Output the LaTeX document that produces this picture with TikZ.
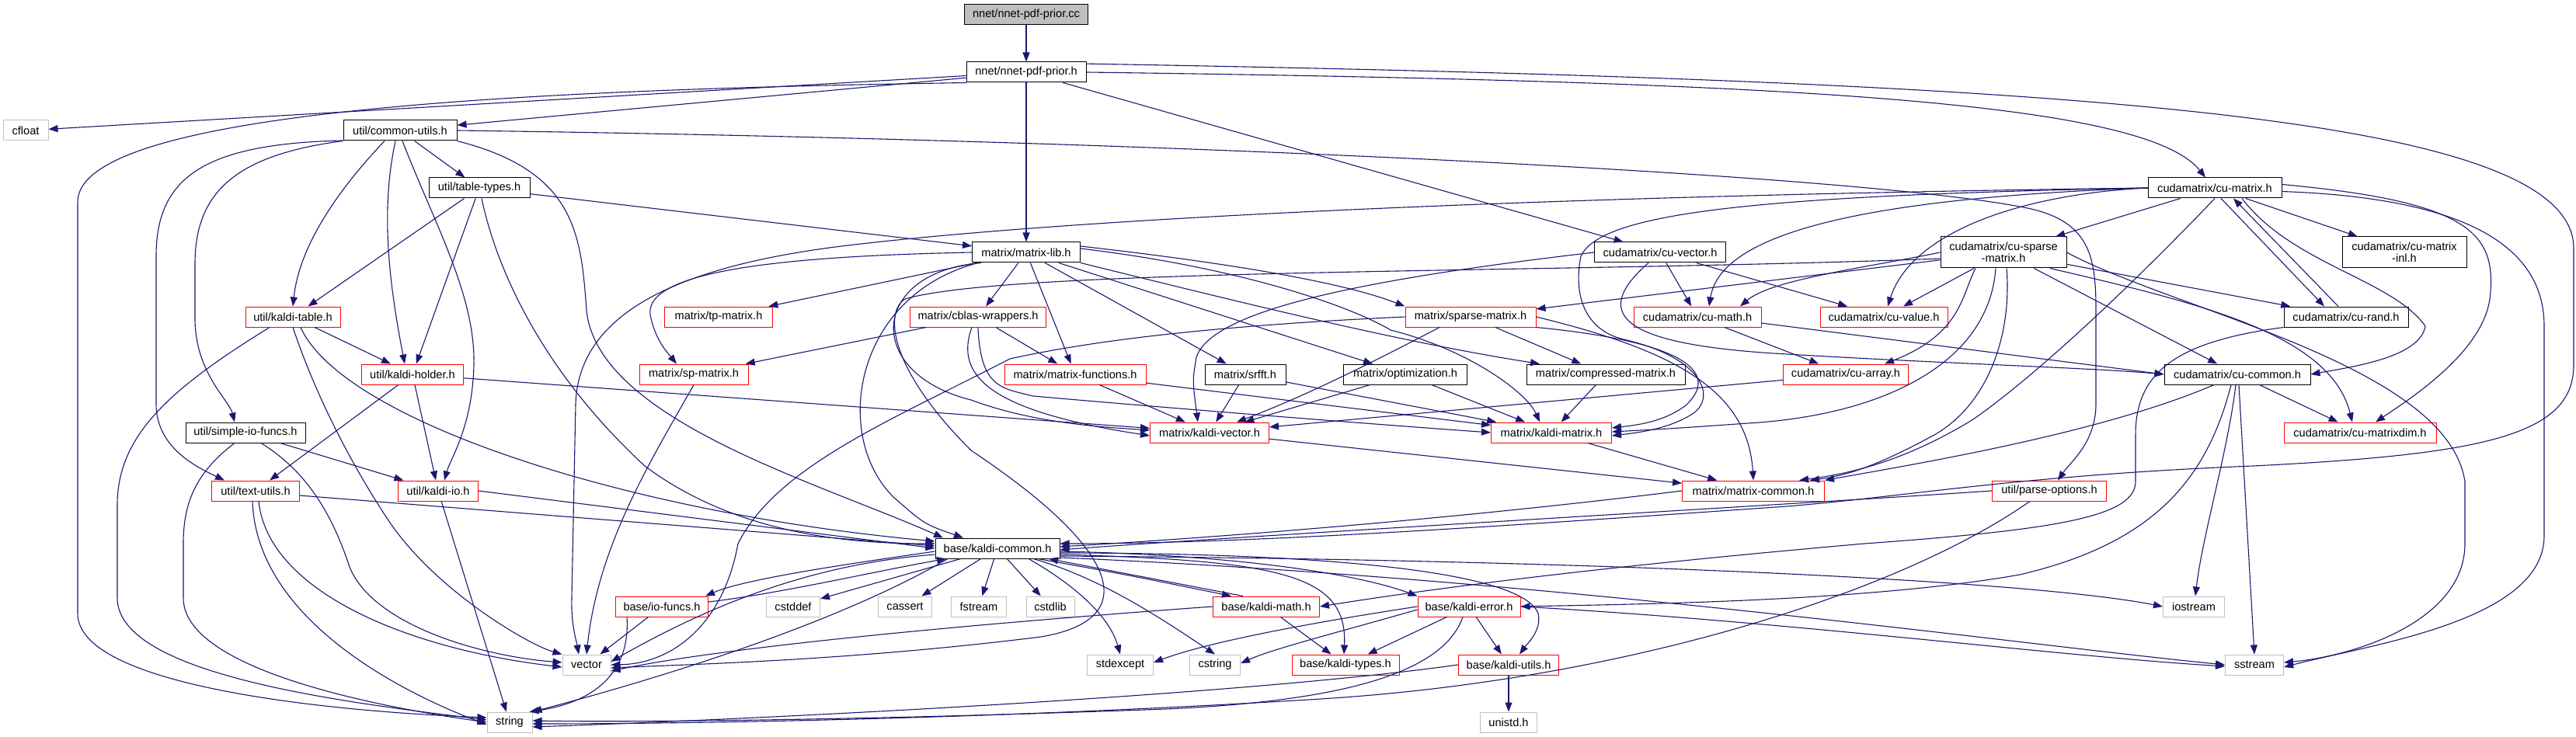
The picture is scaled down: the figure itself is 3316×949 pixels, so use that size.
\documentclass[tikz,border=0pt]{standalone}
\usepackage{fontspec}
\setmainfont{Liberation Sans}
\usepackage{tikz}
\usetikzlibrary{arrows.meta,positioning}
\definecolor{inclblue}{HTML}{191970}
\definecolor{sysgray}{HTML}{BFBFBF}
\tikzset{
  hbox/.style={draw=black, line width=1pt, minimum height=26pt, inner sep=1pt, font=\fontsize{14.6}{15}\selectfont, align=center},
  cutbox/.style={hbox, draw=red},
  sysbox/.style={hbox, draw=sysgray},
  rootbox/.style={hbox, fill=sysgray},
  incl/.style={draw=inclblue, line width=1.1pt, -{Triangle[length=12pt,width=9pt]}},
}
\begin{document}
\begin{tikzpicture}[x=1pt, y=-1pt]
  \fill[white] (0,0) rectangle (3316,949);
  \useasboundingbox (0,0) rectangle (3316,949);

  % source file and its header
  \node[rootbox, minimum width=159pt] (root) at (1321,19) {nnet/nnet-pdf-prior.cc};
  \node[hbox, minimum width=154pt] (prior) at (1321,93) {nnet/nnet-pdf-prior.h};

  % upper rows
  \node[sysbox, minimum width=58pt] (cfloat) at (33,168) {cfloat};
  \node[hbox, minimum width=146pt] (cmnutils) at (515,168) {util/common-utils.h};
  \node[hbox, minimum width=130pt] (tbltypes) at (617,242) {util/table-types.h};
  \node[hbox, minimum width=172pt] (cumtx) at (2851,242) {cudamatrix/cu-matrix.h};
  \node[hbox, minimum width=139pt] (mtxlib) at (1321,325) {matrix/matrix-lib.h};
  \node[hbox, minimum width=169pt] (cuvec) at (2137,325) {cudamatrix/cu-vector.h};
  \node[hbox, minimum width=162pt, minimum height=40pt] (cusparse) at (2579,325) {cudamatrix/cu-sparse\\-matrix.h};
  \node[hbox, minimum width=160pt, minimum height=40pt] (cumtxinl) at (3095,325) {cudamatrix/cu-matrix\\-inl.h};

  % middle rows
  \node[cutbox, minimum width=122pt] (kdtable) at (377,408) {util/kaldi-table.h};
  \node[cutbox, minimum width=139pt] (tpmtx) at (925,408) {matrix/tp-matrix.h};
  \node[cutbox, minimum width=175pt] (cblas) at (1259,408) {matrix/cblas-wrappers.h};
  \node[cutbox, minimum width=168pt] (sparsemtx) at (1893,408) {matrix/sparse-matrix.h};
  \node[cutbox, minimum width=164pt] (cumath) at (2185,408) {cudamatrix/cu-math.h};
  \node[cutbox, minimum width=164pt] (cuvalue) at (2425,408) {cudamatrix/cu-value.h};
  \node[hbox, minimum width=160pt] (curand) at (3020,408) {cudamatrix/cu-rand.h};

  \node[cutbox, minimum width=131pt] (kdholder) at (531,482) {util/kaldi-holder.h};
  \node[cutbox, minimum width=140pt] (spmtx) at (893,482) {matrix/sp-matrix.h};
  \node[cutbox, minimum width=182pt] (mtxfuncs) at (1384,482) {matrix/matrix-functions.h};
  \node[hbox, minimum width=104pt] (srfft) at (1603,482) {matrix/srfft.h};
  \node[hbox, minimum width=159pt] (optim) at (1809,482) {matrix/optimization.h};
  \node[hbox, minimum width=204pt] (compressed) at (2067,482) {matrix/compressed-matrix.h};
  \node[cutbox, minimum width=161pt] (cuarray) at (2376,482) {cudamatrix/cu-array.h};
  \node[hbox, minimum width=188pt] (cucommon) at (2880,482) {cudamatrix/cu-common.h};

  \node[hbox, minimum width=154pt] (simpleio) at (316,557) {util/simple-io-funcs.h};
  \node[cutbox, minimum width=153pt] (kdvector) at (1557,557) {matrix/kaldi-vector.h};
  \node[cutbox, minimum width=155pt] (kdmatrix) at (1997,557) {matrix/kaldi-matrix.h};
  \node[cutbox, minimum width=196pt] (cumtxdim) at (3038,557) {cudamatrix/cu-matrixdim.h};

  \node[cutbox, minimum width=113pt] (textutils) at (329,632) {util/text-utils.h};
  \node[cutbox, minimum width=103pt] (kdio) at (564,632) {util/kaldi-io.h};
  \node[cutbox, minimum width=183pt] (mtxcommon) at (2257,632) {matrix/matrix-common.h};
  \node[cutbox, minimum width=147pt] (parseopts) at (2638,632) {util/parse-options.h};

  % base layer
  \node[hbox, minimum width=160pt] (kdcommon) at (1284,706) {base/kaldi-common.h};
  \node[cutbox, minimum width=119pt] (iofuncs) at (852,781) {base/io-funcs.h};
  \node[sysbox, minimum width=69pt] (cstddef) at (1021,781) {cstddef};
  \node[sysbox, minimum width=69pt] (cassert) at (1165,781) {cassert};
  \node[sysbox, minimum width=71pt] (fstream) at (1260,781) {fstream};
  \node[sysbox, minimum width=62pt] (cstdlib) at (1352,781) {cstdlib};
  \node[cutbox, minimum width=137pt] (kdmath) at (1630,781) {base/kaldi-math.h};
  \node[cutbox, minimum width=132pt] (kderror) at (1891,781) {base/kaldi-error.h};
  \node[sysbox, minimum width=79pt] (iostream) at (2824,781) {iostream};

  \node[sysbox, minimum width=62pt] (vector) at (755,856) {vector};
  \node[sysbox, minimum width=85pt] (stdexcept) at (1442,856) {stdexcept};
  \node[sysbox, minimum width=65pt] (cstring) at (1564,856) {cstring};
  \node[cutbox, minimum width=138pt] (kdtypes) at (1732,856) {base/kaldi-types.h};
  \node[cutbox, minimum width=129pt] (kdutils) at (1942,856) {base/kaldi-utils.h};
  \node[sysbox, minimum width=75pt] (sstream) at (2902,856) {sstream};
  \node[sysbox, minimum width=58pt] (string) at (656,930) {string};
  \node[sysbox, minimum width=73pt] (unistd) at (1942,930) {unistd.h};

  % short, straight includes
  \foreach \src/\dst in {root/prior, prior/mtxlib, prior/cuvec, prior/cfloat, prior/cmnutils,
      cmnutils/tbltypes, tbltypes/kdtable, tbltypes/kdholder, tbltypes/mtxlib, kdtable/kdholder,
      kdholder/textutils, kdholder/kdio, kdholder/kdvector, simpleio/kdio, kdio/string,
      mtxlib/tpmtx, mtxlib/cblas, mtxlib/mtxfuncs, mtxlib/srfft, mtxlib/optim, cblas/spmtx,
      cblas/mtxfuncs, mtxfuncs/kdvector, mtxfuncs/kdmatrix, srfft/kdvector, srfft/kdmatrix,
      optim/kdmatrix, optim/kdvector, compressed/kdmatrix, cuarray/kdvector, kdmatrix/mtxcommon,
      kdvector/mtxcommon, sparsemtx/compressed, cuvec/cumath, cuvec/cuvalue, cumath/cuarray,
      cumtx/cusparse, cumtx/cumtxinl, cusparse/cuvalue, cusparse/sparsemtx, cusparse/cucommon,
      cusparse/curand, cucommon/cumtxdim, kdcommon/cstddef, kdcommon/cassert, kdcommon/fstream,
      kdcommon/cstdlib, iofuncs/vector, kdmath/kdtypes, kderror/kdtypes, kderror/kdutils,
      kdutils/unistd}
    \draw[incl] (\src) -- (\dst);

  % nnet-pdf-prior.h
  \draw[incl] (prior.190) .. controls (700,115) and (100,140) .. (100,260) -- (100,790) .. controls (100,880) and (400,915) .. ([yshift=6pt]string.west);
  \draw[incl] (prior.east) .. controls (2300,105) and (2760,130) .. ([xshift=-12pt]cumtx.north);
  \draw[incl] (prior.8) .. controls (2700,105) and (3313,150) .. (3313,320) -- (3313,470) .. controls (3313,560) and (3200,585) .. (2900,600) .. controls (2600,612) and (2450,640) .. (2300,652) .. controls (1900,680) and (1600,700) .. ([yshift=6pt]kdcommon.east);

  % common-utils.h
  \draw[incl] (cmnutils.190) .. controls (260,185) and (201,230) .. (201,330) -- (201,520) .. controls (201,575) and (250,600) .. ([xshift=-40pt]textutils.north);
  \draw[incl] (cmnutils.south west) .. controls (300,200) and (251,250) .. (251,340) -- (251,410) .. controls (251,480) and (295,515) .. ([xshift=-14pt]simpleio.north);
  \draw[incl] ([xshift=-20pt]cmnutils.south) .. controls (430,250) and (385,320) .. (kdtable.north);
  \draw[incl] ([xshift=-6pt]cmnutils.south) .. controls (490,270) and (500,360) .. ([xshift=-10pt]kdholder.north);
  \draw[incl] ([xshift=3pt]cmnutils.south) .. controls (560,290) and (612,380) .. (610,470) .. controls (608,550) and (580,590) .. ([xshift=8pt]kdio.north);
  \draw[incl] (cmnutils.south east) .. controls (740,220) and (748,300) .. (755,400) .. controls (770,540) and (1050,620) .. ([xshift=-70pt]kdcommon.north);
  \draw[incl] (cmnutils.east) .. controls (1500,180) and (2400,225) .. (2610,268) .. controls (2690,285) and (2698,330) .. (2698,400) -- (2698,520) .. controls (2698,570) and (2665,595) .. ([xshift=11pt]parseopts.north);

  % util headers
  \draw[incl] ([xshift=3pt]tbltypes.south) .. controls (640,350) and (700,480) .. (830,600) .. controls (950,690) and (1100,700) .. ([yshift=6pt]kdcommon.west);
  \draw[incl] ([xshift=-30pt]kdtable.south) .. controls (220,500) and (151,560) .. (151,650) -- (151,770) .. controls (151,870) and (450,905) .. ([yshift=3pt]string.west);
  \draw[incl] (kdtable.south) .. controls (410,520) and (460,610) .. (500,670) .. controls (560,760) and (680,830) .. (vector.north west);
  \draw[incl] ([xshift=10pt]kdtable.south) .. controls (440,540) and (800,660) .. ([yshift=9pt]kdcommon.west);
  \draw[incl] ([xshift=-14pt]simpleio.south) .. controls (250,610) and (236,650) .. (236,700) -- (236,770) .. controls (236,855) and (450,905) .. (string.west);
  \draw[incl] ([xshift=20pt]simpleio.south) .. controls (400,610) and (430,670) .. (450,730) .. controls (480,805) and (620,845) .. ([yshift=3pt]vector.west);
  \draw[incl] ([xshift=-4pt]textutils.south) .. controls (330,790) and (500,885) .. ([yshift=-3pt]string.west);
  \draw[incl] ([xshift=4pt]textutils.south) .. controls (345,760) and (520,835) .. ([yshift=-3pt]vector.west);
  \draw[incl] ([yshift=-6pt]textutils.east) -- ([yshift=3pt]kdcommon.west);
  \draw[incl] (kdio.east) -- (kdcommon.west);

  % matrix-lib.h
  \draw[incl] (mtxlib.west) .. controls (1000,330) and (820,350) .. (838,410) .. controls (845,440) and (860,455) .. ([xshift=-22pt]spmtx.north);
  \draw[incl] ([xshift=-58pt]mtxlib.south) .. controls (1120,350) and (1110,480) .. (1250,515) .. controls (1330,545) and (1420,550) .. ([yshift=3pt]kdvector.west);
  \draw[incl] ([xshift=-62pt]mtxlib.south) .. controls (1100,380) and (1070,560) .. (1150,640) .. controls (1190,675) .. ([xshift=-44pt]kdcommon.north);
  \draw[incl] ([yshift=5pt]mtxlib.east) .. controls (1600,345) and (1740,395) .. (1790,425) .. controls (1890,450) and (1965,505) .. ([xshift=-15pt]kdmatrix.north);
  \draw[incl] ([yshift=8pt]mtxlib.east) .. controls (1550,335) and (1720,360) .. (sparsemtx.north west);
  \draw[incl] (mtxlib.south east) .. controls (1600,390) and (1800,440) .. ([xshift=-85pt]compressed.north);

  % matrix headers
  \draw[incl] (spmtx.south) .. controls (840,590) and (770,700) .. (vector.north);
  \draw[incl] ([xshift=-8pt]cblas.south) .. controls (1230,480) and (1265,528) .. ([yshift=-4pt]kdvector.west);
  \draw[incl] (cblas.south) .. controls (1262,500) and (1290,500) .. (1330,510) .. controls (1500,525) and (1750,545) .. (kdmatrix.west);
  \draw[incl] ([xshift=-40pt]sparsemtx.south) .. controls (1760,470) and (1680,510) .. ([xshift=35pt]kdvector.north);
  \draw[incl] (sparsemtx.south east) .. controls (2170,440) and (2215,480) .. (2170,522) .. controls (2140,545) and (2100,548) .. ([yshift=6pt]kdmatrix.east);
  \draw[incl] (sparsemtx.east) .. controls (2150,450) and (2250,500) .. (mtxcommon.north);
  \draw[incl] (sparsemtx.west) .. controls (1550,420) and (1400,440) .. (1300,462) .. controls (1150,540) and (1000,600) .. (950,700) .. controls (930,810) and (860,855) .. (vector.east);
  \draw[incl] (mtxcommon.west) .. controls (1900,665) and (1600,690) .. ([yshift=2pt]kdcommon.east);

  % cu-vector.h
  \draw[incl] (cuvec.west) .. controls (1750,360) and (1560,400) .. (1540,460) .. controls (1535,490) .. ([xshift=-15pt]kdvector.north);
  \draw[incl] ([xshift=-15pt]cuvec.south) .. controls (2040,410) and (2100,445) .. (2300,456) .. controls (2500,468) and (2700,474) .. (cucommon.west);

  % cu-matrix.h
  \draw[incl] (cumtx.west) .. controls (2400,255) and (2215,300) .. ([xshift=15pt]cumath.north);
  \draw[incl] (cumtx.west) .. controls (2600,250) and (2460,300) .. ([xshift=5pt]cuvalue.north);
  \draw[incl] (cumtx.west) .. controls (2250,252) and (2060,275) .. (2035,330) .. controls (2025,380) and (2040,425) .. (2090,437) .. controls (2190,460) and (2210,510) .. (2180,532) .. controls (2150,552) and (2110,557) .. ([yshift=-4pt]kdmatrix.east);
  \draw[incl] (cumtx.west) .. controls (2000,252) and (1400,280) .. (1100,315) .. controls (880,340) and (745,400) .. (741,520) -- (736,770) .. controls (735,805) and (742,825) .. ([xshift=-10pt]vector.north);
  \draw[incl] (cumtx.south) .. controls (2780,330) and (2640,470) .. (2540,540) .. controls (2450,595) and (2380,610) .. ([xshift=-33pt]mtxcommon.north east);
  \draw[incl] ([xshift=8pt]cumtx.south) -- ([xshift=-28pt]curand.north);
  \draw[incl] ([xshift=-10pt]curand.north) -- ([xshift=24pt]cumtx.south);
  \draw[incl] ([xshift=35pt]cumtx.south) .. controls (2950,340) and (3080,360) .. (3122,420) .. controls (3115,460) and (3030,472) .. (cucommon.east);
  \draw[incl] (cumtx.3) .. controls (3180,260) and (3215,300) .. (3205,385) .. controls (3195,455) and (3100,515) .. ([xshift=20pt]cumtxdim.north);
  \draw[incl] (cumtx.-3) .. controls (3180,255) and (3275,320) .. (3275,420) -- (3275,690) .. controls (3275,800) and (3050,830) .. ([yshift=-3pt]sstream.east);

  % cu-sparse-matrix.h
  \draw[incl] (cusparse.west) .. controls (2400,345) and (2280,360) .. ([xshift=55pt]cumath.north);
  \draw[incl] ([yshift=-8pt]cusparse.west) .. controls (2000,352) and (1300,345) .. (1165,385) .. controls (1140,400) and (1140,470) .. (1250,580) .. controls (1460,720) and (1460,800) .. (1340,820) .. controls (1100,850) and (900,855) .. ([yshift=-4pt]vector.east);
  \draw[incl] ([xshift=-36pt]cusparse.south) .. controls (2525,380) and (2525,430) .. ([xshift=50pt]cuarray.north);
  \draw[incl] ([xshift=-10pt]cusparse.south) .. controls (2560,470) and (2420,535) .. (2250,545) .. controls (2150,552) .. ([yshift=1pt]kdmatrix.east);
  \draw[incl] ([xshift=4pt]cusparse.south) .. controls (2590,430) and (2560,520) .. (2490,560) .. controls (2420,598) and (2380,612) .. ([xshift=-19pt]mtxcommon.north east);
  \draw[incl] ([xshift=60pt]cusparse.south) .. controls (2830,390) and (3000,430) .. ([xshift=-10pt]cumtxdim.north);
  \draw[incl] (cusparse.east) .. controls (2800,400) and (3150,470) .. (3173,620) -- (3173,700) .. controls (3173,800) and (3030,845) .. ([yshift=3pt]sstream.east);

  % cu-math.h, cu-common.h, cu-rand.h
  \draw[incl] ([yshift=-8pt]cumath.east) -- (cucommon.west);
  \draw[incl] ([xshift=-30pt]cucommon.south) .. controls (2700,560) and (2450,600) .. (mtxcommon.north east);
  \draw[incl] ([xshift=-2pt]cucommon.south) .. controls (2868,580) and (2835,690) .. ([xshift=2pt]iostream.north);
  \draw[incl] ([xshift=2pt]cucommon.south) -- (sstream.north);
  \draw[incl] ([xshift=-8pt]cucommon.south) .. controls (2840,620) and (2770,700) .. (2600,740) .. controls (2400,775) and (2100,778) .. (kderror.east);
  \draw[incl] (curand.south west) .. controls (2800,440) and (2749,480) .. (2749,560) -- (2749,620) .. controls (2749,665) and (2650,682) .. (2400,700) .. controls (2000,735) and (1800,765) .. (kdmath.east);

  % parse-options.h
  \draw[incl] (parseopts.west) .. controls (2300,650) and (1600,690) .. ([yshift=-2pt]kdcommon.east);
  \draw[incl] ([xshift=-25pt]parseopts.south) .. controls (2450,760) and (2100,875) .. (1700,900) .. controls (1300,925) and (900,932) .. ([yshift=-2pt]string.east);

  % kaldi-common.h
  \draw[incl] ([yshift=-4pt]kdcommon.west) .. controls (1100,725) and (960,745) .. ([xshift=-4pt]iofuncs.north east);
  \draw[incl] ([yshift=6pt]iofuncs.east) .. controls (1000,765) and (1130,735) .. ([xshift=-66pt]kdcommon.south);
  \draw[incl] ([yshift=-8pt]kdcommon.west) .. controls (1060,725) and (930,770) .. ([yshift=4pt]vector.east);
  \draw[incl] ([xshift=-64pt]kdcommon.south) .. controls (1100,790) and (900,860) .. (string.north east);
  \draw[incl] ([xshift=52pt]kdcommon.south) .. controls (1450,740) .. ([xshift=-45pt]kdmath.north);
  \draw[incl] ([xshift=-30pt]kdmath.north) .. controls (1480,745) .. ([xshift=66pt]kdcommon.south);
  \draw[incl] ([xshift=40pt]kdcommon.south) .. controls (1395,760) and (1430,800) .. (stdexcept.north);
  \draw[incl] ([xshift=46pt]kdcommon.south) .. controls (1420,745) and (1500,800) .. (cstring.north);
  \draw[incl] ([yshift=-8pt]kdcommon.east) .. controls (1650,722) and (1735,740) .. ([xshift=-2pt]kdtypes.north);
  \draw[incl] ([yshift=-4pt]kdcommon.east) .. controls (1600,715) and (1750,740) .. (kderror.north west);
  \draw[incl] ([yshift=-6pt]kdcommon.east) .. controls (1700,712) and (1960,735) .. (1980,790) .. controls (1985,812) and (1965,830) .. ([xshift=14pt]kdutils.north);
  \draw[incl] ([yshift=-10pt]kdcommon.east) .. controls (2000,720) and (2600,745) .. (iostream.west);
  \draw[incl] ([yshift=-12pt]kdcommon.east) .. controls (2000,745) and (2600,830) .. (sstream.west);

  % base headers
  \draw[incl] ([xshift=-45pt]iofuncs.south) .. controls (812,870) and (760,905) .. ([xshift=-4pt]string.north east);
  \draw[incl] (kdmath.west) .. controls (1300,800) and (950,830) .. ([yshift=-8pt]vector.east);
  \draw[incl] (kderror.west) .. controls (1700,800) and (1560,825) .. ([yshift=3pt]stdexcept.east);
  \draw[incl] ([yshift=-4pt]kderror.west) .. controls (1720,815) and (1640,835) .. ([yshift=2pt]cstring.east);
  \draw[incl] ([xshift=-8pt]kderror.south) .. controls (1860,860) and (1750,902) .. (1500,913) .. controls (1100,928) and (800,930) .. ([yshift=2pt]string.east);
  \draw[incl] (kderror.east) .. controls (2300,800) and (2650,845) .. ([yshift=-2pt]sstream.west);
  \draw[incl] (kdutils.west) .. controls (1600,895) and (1000,925) .. ([yshift=-6pt]string.east);
\end{tikzpicture}
\end{document}
